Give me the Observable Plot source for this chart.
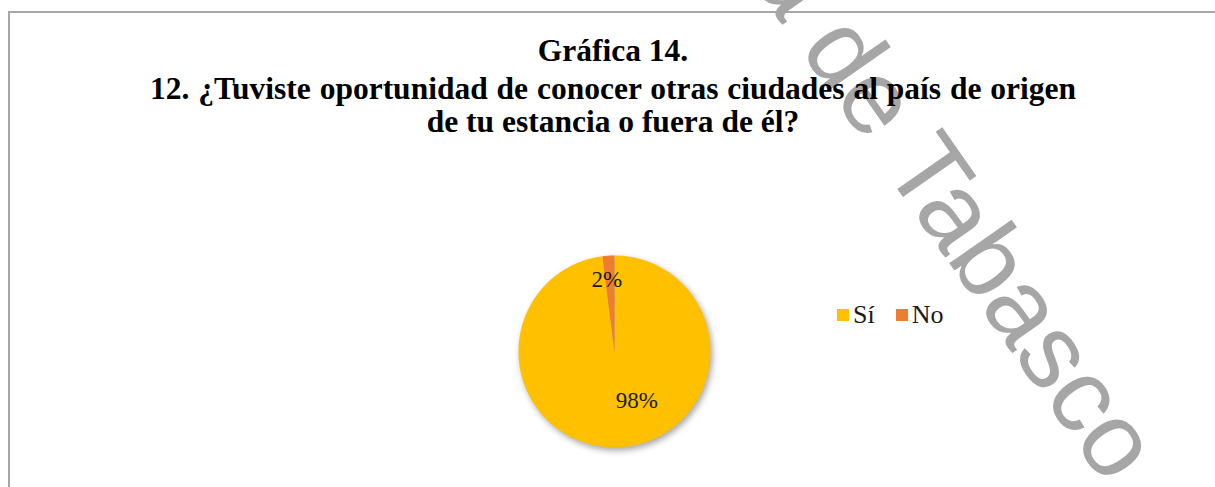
<!DOCTYPE html>
<html>
<head>
<meta charset="utf-8">
<script src="https://cdn.jsdelivr.net/npm/d3@7"></script>
<script src="https://cdn.jsdelivr.net/npm/@observablehq/plot@0.6"></script>
<style>
  html, body { margin: 0; padding: 0; background: #fff; }
  #wrap { position: relative; width: 1215px; height: 487px; overflow: hidden; background: #fff; }
  #frame { position: absolute; left: 8px; top: 11px; width: 1400px; height: 700px; border: 2px solid #a6a6a6; box-sizing: border-box; }
  .title { position: absolute; left: 0; width: 1226px; text-align: center; font-family: "Liberation Serif", "Times New Roman", serif; font-weight: bold; font-size: 31.5px; color: #000; white-space: nowrap; line-height: 1; }
  #pie { position: absolute; left: 514px; top: 251px; }
  #legend { position: absolute; left: 837px; top: 298px; }
  #legend [class$="-swatch"] { margin-right: 21px !important; }
  #legend [class$="-swatch"] > svg { margin-right: 4px !important; }
  #watermark { position: absolute; left: 0; top: 0; pointer-events: none; }
</style>
</head>
<body>
<div id="wrap">
  <div id="frame"></div>
  <svg id="watermark" width="1215" height="487">
    <text transform="translate(1106,487) rotate(55)" text-anchor="end" font-family="Liberation Sans, Arial, sans-serif" font-size="105" fill="#a6a6a6">a de Tabasco</text>
  </svg>
  <div class="title" style="top:35px">Gráfica 14.</div>
  <div class="title" style="top:73px; word-spacing:1px">12. ¿Tuviste oportunidad de conocer otras ciudades al país de origen</div>
  <div class="title" style="top:106px">de tu estancia o fuera de él?</div>
  <div id="pie"></div>
  <div id="legend"></div>
</div>
<script>
const categories = ["Sí", "No"];
const values = [98, 2];
const labels = ["98%", "2%"];
const colors = ["#FFC000", "#ED7D31"];

// Slice outlines built from the values (clockwise from 12 o'clock, as in the original)
const total = d3.sum(values);
const slices = [];
const labelData = [];
let start = 0;
categories.forEach((c, i) => {
  const a0 = start, a1 = start + values[i] / total * 2 * Math.PI;
  start = a1;
  const n = Math.max(2, Math.ceil((a1 - a0) / (Math.PI / 180)));
  slices.push({cat: c, x: 0, y: 0});
  for (let k = 0; k <= n; k++) {
    const a = a0 + (a1 - a0) * k / n;
    slices.push({cat: c, x: Math.sin(a), y: Math.cos(a)});
  }
  slices.push({cat: c, x: 0, y: 0});
  const m = (a0 + a1) / 2;
  const r = i === 0 ? 0.55 : 0.78;
  labelData.push({cat: c, label: labels[i], x: r * Math.sin(m), y: r * Math.cos(m)});
});

const color = {domain: categories, range: colors};
const serif = "Liberation Serif, Times New Roman, serif";

const pie = Plot.plot({
  width: 200, height: 200, margin: 4,
  x: {domain: [-1, 1], axis: null},
  y: {domain: [-1, 1], axis: null},
  color,
  style: {background: "transparent", overflow: "visible"},
  marks: [
    Plot.line(slices, {x: "x", y: "y", z: "cat", fill: "cat", stroke: "none", curve: "linear"}),
    Plot.text(labelData.filter(d => d.cat === "Sí"), {x: "x", y: "y", text: "label", dx: 19, dy: -4, fontSize: 23, fontFamily: serif, fill: "#1a1a1a"}),
    Plot.text(labelData.filter(d => d.cat === "No"), {x: "x", y: "y", text: "label", dx: -3, dy: 3, fontSize: 23, fontFamily: serif, fill: "#1a1a1a"})
  ]
});
const lineG = pie.querySelector('g[aria-label="line"]');
if (lineG) lineG.style.filter = "drop-shadow(2px 3px 3px rgba(0,0,0,0.35))";
document.getElementById("pie").appendChild(pie);

const legend = Plot.legend({
  color: {...color, type: "ordinal"},
  legend: "swatches",
  swatchSize: 12,
  style: {fontFamily: serif, fontSize: "26px", color: "#1a1a1a"}
});
document.getElementById("legend").appendChild(legend);
</script>
</body>
</html>
